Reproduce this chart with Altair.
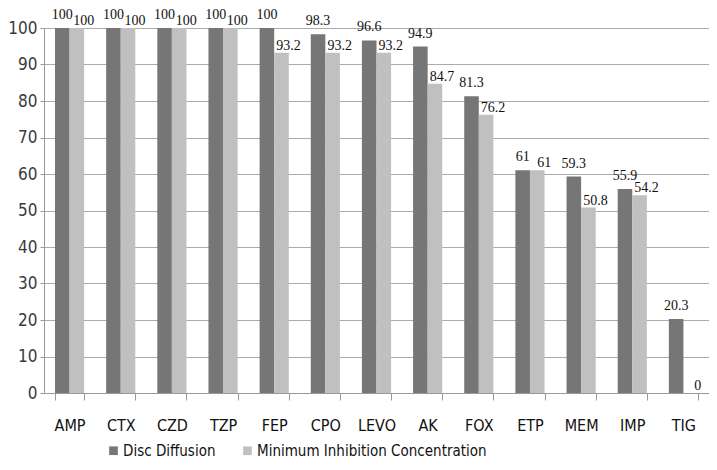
import altair as alt
import pandas as pd

categories = ["AMP", "CTX", "CZD", "TZP", "FEP", "CPO", "LEVO", "AK", "FOX", "ETP", "MEM", "IMP", "TIG"]
disc_diffusion = [100, 100, 100, 100, 100, 98.3, 96.6, 94.9, 81.3, 61, 59.3, 55.9, 20.3]
mic = [100, 100, 100, 100, 93.2, 93.2, 93.2, 84.7, 76.2, 61, 50.8, 54.2, 0]
series = ["Disc Diffusion", "Minimum Inhibition Concentration"]
colors = ["#767676", "#c0c0c0"]

rows = []
for c, a, b in zip(categories, disc_diffusion, mic):
    rows.append({"cat": c, "series": series[0], "value": a})
    rows.append({"cat": c, "series": series[1], "value": b})
df = pd.DataFrame(rows)

SANS = "DejaVu Sans Condensed, Liberation Sans Narrow, DejaVu Sans"
SERIF = "Liberation Serif, DejaVu Serif"

x = alt.X("cat:N", sort=categories, title=None,
          scale=alt.Scale(paddingInner=0.43, paddingOuter=0.215),
          axis=alt.Axis(labelAngle=0, labelFont=SANS, labelFontSize=16, labelColor="#111111",
                        tickBand="extent", tickSize=7, tickColor="#999999",
                        domainColor="#999999", labelPadding=17, grid=False))
xo = alt.XOffset("series:N", sort=series, scale=alt.Scale(paddingInner=0, paddingOuter=0))
y = alt.Y("value:Q", title=None,
          scale=alt.Scale(domain=[0, 100], nice=False),
          axis=alt.Axis(values=list(range(0, 101, 10)), labelFont=SANS, labelFontSize=17,
                        labelColor="#3a3a3a", tickSize=4, tickColor="#999999",
                        domainColor="#999999", labelPadding=3, gridColor="#ababab"))

bars = alt.Chart(df).mark_bar().encode(
    x=x, xOffset=xo, y=y,
    color=alt.Color("series:N", sort=series,
                    scale=alt.Scale(domain=series, range=colors),
                    legend=alt.Legend(title=None, orient="none", direction="horizontal",
                                      legendX=62, legendY=415, symbolType="square",
                                      symbolSize=75, symbolStrokeWidth=0, labelLimit=400,
                                      labelFont=SANS, labelFontSize=15, labelColor="#111111",
                                      columnPadding=24, labelOffset=2)),
)

lab_dd = alt.Chart(df).transform_filter(alt.datum.series == series[0]).mark_text(
    font=SERIF, fontSize=14, baseline="bottom", dy=-6, color="#111111"
).encode(x=x, xOffset=xo, y=y, text=alt.Text("value:Q", format=".1~f"))

lab_mic = alt.Chart(df).transform_filter(alt.datum.series == series[1]).mark_text(
    font=SERIF, fontSize=14, baseline="bottom", dy=0, dx=7, color="#111111"
).encode(x=x, xOffset=xo, y=y, text=alt.Text("value:Q", format=".1~f"))

chart = alt.layer(bars, lab_dd, lab_mic).properties(
    width=665, height=365,
    autosize=alt.AutoSizeParams(type="none"),
    padding={"left": 36, "top": 20, "right": 0, "bottom": 76},
).configure_view(stroke=None).configure(background="white")

chart.save("out.html", embed_options={"renderer": "svg", "actions": False})
